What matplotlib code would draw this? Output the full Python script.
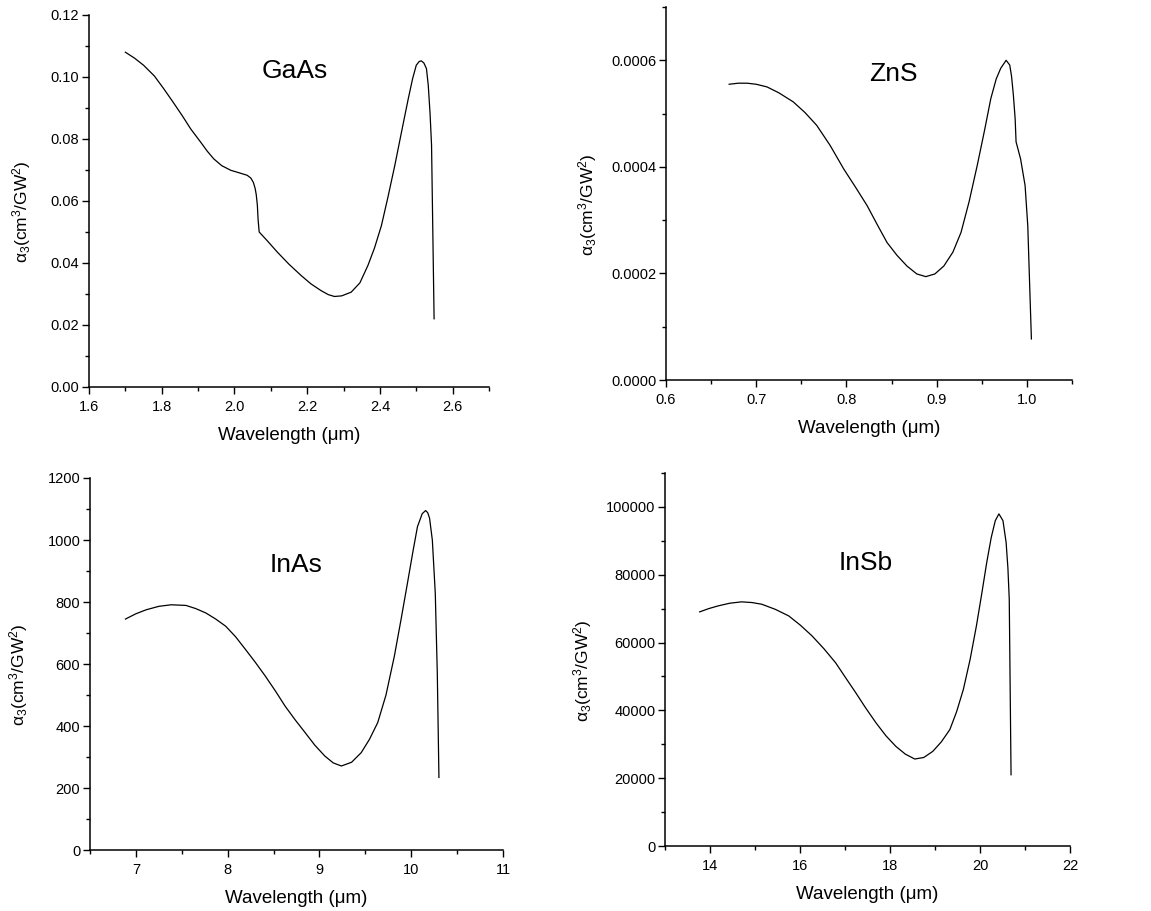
import matplotlib
matplotlib.use("Agg")
import matplotlib.pyplot as plt
from matplotlib.ticker import MultipleLocator, FormatStrFormatter

plt.rcParams['font.family'] = ['Liberation Sans', 'DejaVu Sans']
plt.rcParams['mathtext.fontset'] = 'custom'
plt.rcParams['mathtext.rm'] = 'Liberation Sans'
plt.rcParams['mathtext.it'] = 'Liberation Sans'
plt.rcParams['mathtext.default'] = 'regular'

# ---- data ----
gaas_x = [1.70, 1.725, 1.75, 1.78, 1.805, 1.83, 1.856, 1.88, 1.907, 1.925, 1.943,
          1.965, 1.99, 2.01, 2.035, 2.045, 2.052, 2.057, 2.060, 2.063, 2.065, 2.068,
          2.09, 2.118, 2.15, 2.183, 2.21, 2.238, 2.258, 2.275, 2.295, 2.321, 2.345,
          2.367, 2.385, 2.404, 2.422, 2.441, 2.46, 2.478, 2.49, 2.50, 2.508, 2.514,
          2.521, 2.528, 2.533, 2.538, 2.542, 2.549]
gaas_y = [0.108, 0.1061, 0.1038, 0.1003, 0.0963, 0.0921, 0.0876, 0.0832, 0.079, 0.0761, 0.0736,
          0.0714, 0.0699, 0.0692, 0.0683, 0.0674, 0.0660, 0.0640, 0.0620, 0.0586, 0.054, 0.050,
          0.0472, 0.0435, 0.0396, 0.036, 0.0333, 0.0311, 0.0298, 0.0292, 0.0294, 0.0306, 0.0336,
          0.0392, 0.0448, 0.052, 0.0612, 0.0715, 0.0826, 0.093, 0.0995, 0.1038, 0.1050, 0.1052,
          0.1045, 0.1027, 0.0973, 0.088, 0.078, 0.022]

zns_x = [0.670, 0.680, 0.690, 0.700, 0.712, 0.725, 0.741, 0.754, 0.767, 0.782, 0.797,
         0.810, 0.823, 0.834, 0.845, 0.856, 0.867, 0.878, 0.888, 0.898, 0.908, 0.918,
         0.927, 0.936, 0.945, 0.953, 0.960, 0.966, 0.971, 0.977, 0.981, 0.983, 0.985,
         0.987, 0.988, 0.993, 0.998, 1.001, 1.003, 1.005]
zns_y = [0.000555, 0.000557, 0.000557, 0.000555, 0.00055, 0.000539, 0.000522, 0.000502, 0.000478, 0.000440, 0.000396,
         0.000362, 0.000327, 0.000292, 0.000258, 0.000234, 0.000214, 0.000199, 0.000194, 0.000199, 0.000214, 0.000240,
         0.000277, 0.000335, 0.000403, 0.000468, 0.000528, 0.000565, 0.000585, 0.0006, 0.000591, 0.000570, 0.000535,
         0.00049, 0.000447, 0.000415, 0.000365, 0.000289, 0.000182, 0.000077]

inas_x = [6.886, 7.0, 7.113, 7.25, 7.383, 7.545, 7.65, 7.76, 7.87, 7.978, 8.086,
          8.194, 8.30, 8.41, 8.52, 8.626, 8.735, 8.843, 8.95, 9.059, 9.15, 9.239,
          9.35, 9.455, 9.545, 9.635, 9.725, 9.816, 9.89, 9.959, 10.02, 10.068, 10.12,
          10.157, 10.18, 10.2, 10.23, 10.262, 10.284, 10.302]
inas_y = [745, 762, 775, 786, 791, 789, 779, 765, 745, 722, 688,
          647, 606, 561, 513, 464, 420, 379, 338, 303, 281, 271,
          283, 314, 357, 411, 500, 625, 745, 861, 965, 1043, 1085,
          1095, 1088, 1070, 1000, 829, 572, 234]

insb_x = [13.77, 13.97, 14.18, 14.44, 14.70, 14.93, 15.15, 15.45, 15.75, 16.01, 16.27,
          16.53, 16.79, 17.01, 17.24, 17.46, 17.69, 17.91, 18.13, 18.34, 18.55, 18.75,
          18.95, 19.14, 19.33, 19.48, 19.63, 19.78, 19.92, 20.04, 20.15, 20.25, 20.34,
          20.42, 20.51, 20.58, 20.62, 20.65, 20.69]
insb_y = [69040, 70000, 70810, 71600, 72000, 71800, 71300, 69800, 67850, 65100, 61930,
          58200, 54060, 49700, 45180, 40700, 36300, 32500, 29380, 27100, 25650, 26100,
          27900, 30700, 34330, 39600, 46160, 55000, 64890, 74500, 83650, 91000, 95960,
          97940, 95960, 89570, 82000, 72790, 21010]

names = ['GaAs', 'ZnS', 'InAs', 'InSb']
xlabel = 'Wavelength (\u03bcm)'
ylabel = '\u03b1$_3$(cm$^3$/GW$^2$)'

W, H = 1151, 911
fig = plt.figure(figsize=(W / 100, H / 100), dpi=100)

def px_axes(l, t, r, b):
    return fig.add_axes([l / W, 1 - b / H, (r - l) / W, (b - t) / H])

specs = [
    dict(box=(89, 15, 489, 387), x=gaas_x, y=gaas_y, xlim=(1.6, 2.7), ylim=(0, 0.12),
         xmaj=0.2, xmin=0.1, ymaj=0.02, ymin=0.01, xfmt='%.1f', yfmt='%.2f',
         name_pos=(0.515, 0.85), ylab_x=-0.14),
    dict(box=(666, 7, 1072, 380), x=zns_x, y=zns_y, xlim=(0.6, 1.05), ylim=(0, 0.0007),
         xmaj=0.1, xmin=0.05, ymaj=0.0002, ymin=0.0001, xfmt='%.1f', yfmt='%.4f',
         name_pos=(0.56, 0.82), ylab_x=-0.165),
    dict(box=(90, 478, 503, 850), x=inas_x, y=inas_y, xlim=(6.5, 11), ylim=(0, 1200),
         xmaj=1, xmin=0.5, ymaj=200, ymin=100, xfmt='%d', yfmt='%d',
         name_pos=(0.498, 0.765), ylab_x=-0.145),
    dict(box=(665, 473, 1070, 846), x=insb_x, y=insb_y, xlim=(13, 22), ylim=(0, 110000),
         xmaj=2, xmin=1, ymaj=20000, ymin=10000, xfmt='%d', yfmt='%d',
         name_pos=(0.495, 0.76), ylab_x=-0.175),
]

for s, name in zip(specs, names):
    ax = px_axes(*s['box'])
    ax.plot(s['x'], s['y'], color='black', lw=0.9)
    ax.set_xlim(*s['xlim'])
    ax.set_ylim(*s['ylim'])
    ax.spines['top'].set_visible(False)
    ax.spines['right'].set_visible(False)
    for sp in ('left', 'bottom'):
        ax.spines[sp].set_linewidth(1.1)
    ax.xaxis.set_major_locator(MultipleLocator(s['xmaj']))
    ax.xaxis.set_minor_locator(MultipleLocator(s['xmin']))
    ax.yaxis.set_major_locator(MultipleLocator(s['ymaj']))
    ax.yaxis.set_minor_locator(MultipleLocator(s['ymin']))
    ax.xaxis.set_major_formatter(FormatStrFormatter(s['xfmt']))
    ax.yaxis.set_major_formatter(FormatStrFormatter(s['yfmt']))
    ax.tick_params(which='major', direction='out', length=5, width=1.0, labelsize=10.5)
    ax.tick_params(axis='x', which='major', pad=4.5)
    ax.tick_params(axis='y', which='major', pad=2)
    ax.tick_params(which='minor', direction='out', length=3, width=1.0)
    ax.set_xlabel(xlabel, fontsize=13.5, labelpad=9)
    ax.set_ylabel(ylabel, fontsize=12.5)
    ax.yaxis.set_label_coords(s['ylab_x'], 0.47)
    ax.text(s['name_pos'][0], s['name_pos'][1], name, transform=ax.transAxes,
            ha='center', va='center', fontsize=19)

fig.savefig('out.png', dpi=100)
